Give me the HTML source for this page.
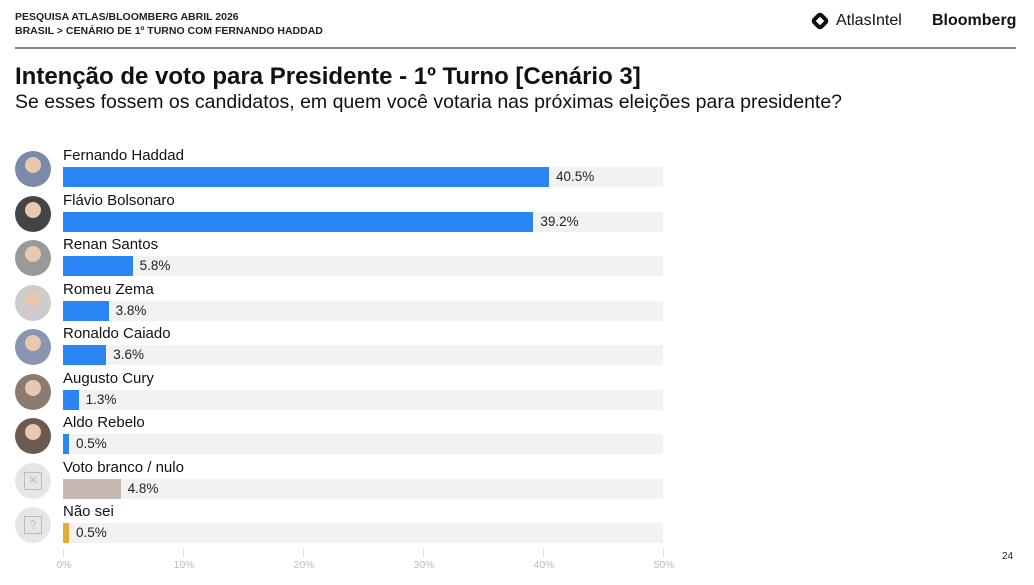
<!DOCTYPE html>
<html><head><meta charset="utf-8"><style>
body{margin:0;width:1034px;height:585px;background:#fff;font-family:"Liberation Sans",sans-serif;position:relative;overflow:hidden;color:#111}
.a{position:absolute}
.hdr{left:15px;font-size:10.5px;font-weight:bold;color:#222}
.nm{left:63px;font-size:15px;color:#111}
.tr{left:63px;width:600px;height:20px;background:#f3f2f1}
.bar{left:63px;height:20px;background:#2a86f5}
.pc{font-size:13.5px;color:#222}
.av{left:15px;width:36px;height:36px;border-radius:50%;background:#ddd;overflow:hidden}
.tk{font-size:10.5px;color:#bbb;width:40px;text-align:center}
.tl{width:1px;height:8px;background:#ddd}
</style></head><body>
<div class="a hdr" style="top:11px">PESQUISA ATLAS/BLOOMBERG ABRIL 2026</div>
<div class="a hdr" style="top:25px">BRASIL &gt; CENÁRIO DE 1º TURNO COM FERNANDO HADDAD</div>
<div class="a" style="left:15px;top:47px;width:1001px;height:2px;background:#888"></div>
<div class="a" style="left:813px;top:14px;width:14px;height:14px;background:#111;transform:rotate(45deg);border-radius:4px"></div>
<div class="a" style="left:817px;top:18px;width:6px;height:6px;background:#fff;transform:rotate(45deg)"></div>
<div class="a" style="left:836px;top:12px;font-size:16px;color:#111">AtlasIntel</div>
<div class="a" style="left:932px;top:12px;font-size:16px;font-weight:bold;color:#111">Bloomberg</div>
<div class="a" style="left:15px;top:63px;font-size:24px;font-weight:bold;color:#111">Intenção de voto para Presidente - 1º Turno [Cenário 3]</div>
<div class="a" style="left:15px;top:91px;font-size:19.5px;color:#111">Se esses fossem os candidatos, em quem você votaria nas próximas eleições para presidente?</div>
<div id="rows"></div>
<script>
var d=[["Fernando Haddad",40.5,"#2a86f5","#7a8aa8"],["Flávio Bolsonaro",39.2,"#2a86f5","#444"],["Renan Santos",5.8,"#2a86f5","#999"],["Romeu Zema",3.8,"#2a86f5","#ccc"],["Ronaldo Caiado",3.6,"#2a86f5","#8a96b0"],["Augusto Cury",1.3,"#2a86f5","#8a7a70"],["Aldo Rebelo",0.5,"#2a86f5","#6a5a50"],["Voto branco / nulo",4.8,"#c6b9b1","#e6e6e8"],["Não sei",0.5,"#e8a935","#e6e6e8"]];
var h="";
d.forEach(function(r,i){var y=145+i*44.5;var w=r[1]*12;
h+='<div class="a av" style="top:'+(y+6)+'px;background:'+r[3]+'">'+(i==7?'<div style="margin:9px;width:16px;height:16px;border:1px solid #bbb;color:#bbb;font-size:16px;line-height:16px;text-align:center">×</div>':i==8?'<div style="margin:9px;width:16px;height:16px;border:1px solid #bbb;color:#bbb;font-size:12px;line-height:16px;text-align:center">?</div>':'<div style="margin:6px 0 0 10px;width:16px;height:16px;border-radius:50%;background:#e8c8b0"></div>')+'</div>';
h+='<div class="a nm" style="top:'+(y+2)+'px">'+r[0]+'</div>';
h+='<div class="a tr" style="top:'+(y+22)+'px"></div>';
h+='<div class="a bar" style="top:'+(y+22)+'px;width:'+w+'px;background:'+r[2]+'"></div>';
h+='<div class="a pc" style="top:'+(y+24)+'px;left:'+(63+w+7)+'px">'+r[1].toFixed(1)+'%</div>';});
for(var t=0;t<=5;t++){var x=63+t*120;h+='<div class="a tl" style="left:'+x+'px;top:549px"></div><div class="a tk" style="left:'+(x-19)+'px;top:559px">'+(t*10)+'%</div>';}
document.getElementById("rows").innerHTML=h;
</script>
<div class="a" style="left:1002px;top:551px;font-size:10px;color:#222">24</div>
</body></html>
